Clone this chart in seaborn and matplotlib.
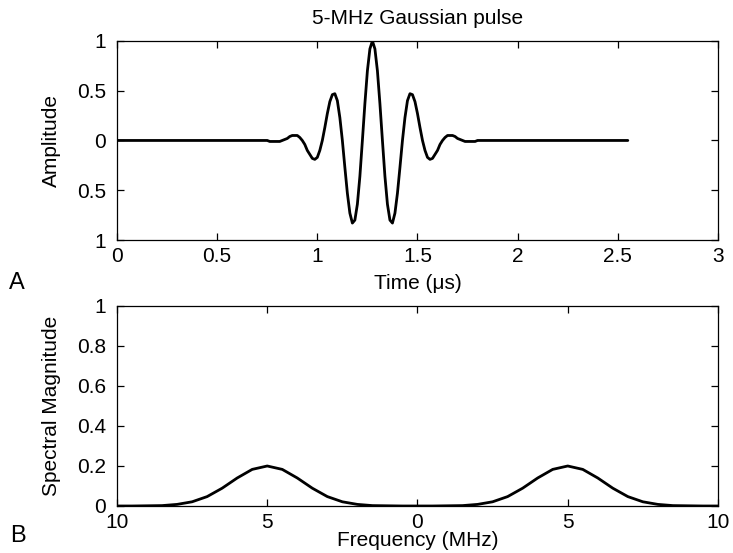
import matplotlib
matplotlib.use("Agg")
import matplotlib.pyplot as plt
import seaborn as sns
import pandas as pd

# ---------------- data ----------------
time_us = [0.0,
    0.725, 0.7375, 0.75, 0.7625, 0.775, 0.7875, 0.8, 0.8125, 0.825, 0.8375,
    0.85, 0.8625, 0.875, 0.8875, 0.9, 0.9125, 0.925, 0.9375, 0.95, 0.9625,
    0.975, 0.9875, 1.0, 1.0125, 1.025, 1.0375, 1.05, 1.0625, 1.075, 1.0875,
    1.1, 1.1125, 1.125, 1.1375, 1.15, 1.1625, 1.175, 1.1875, 1.2, 1.2125,
    1.225, 1.2375, 1.25, 1.2625, 1.275,
    1.2875, 1.3, 1.3125, 1.325, 1.3375, 1.35, 1.3625, 1.375, 1.3875, 1.4,
    1.4125, 1.425, 1.4375, 1.45, 1.4625, 1.475, 1.4875, 1.5, 1.5125, 1.525,
    1.5375, 1.55, 1.5625, 1.575, 1.5875, 1.6, 1.6125, 1.625, 1.6375, 1.65,
    1.6625, 1.675, 1.6875, 1.7, 1.7125, 1.725, 1.7375, 1.75, 1.7625, 1.775,
    1.7875, 1.8, 1.8125, 1.825,
    2.55]
amplitude = [0.0,
    0.00, 0.00, 0.00, -0.01, -0.01, -0.01, -0.01, -0.01, 0.00, 0.01,
    0.02, 0.04, 0.05, 0.05, 0.05, 0.03, 0.00, -0.04, -0.10, -0.14,
    -0.18, -0.19, -0.17, -0.10, 0.00, 0.13, 0.27, 0.39, 0.46, 0.47,
    0.40, 0.23, 0.00, -0.27, -0.53, -0.73, -0.83, -0.80, -0.64, -0.36,
    0.00, 0.37, 0.70, 0.92, 1.00,
    0.92, 0.70, 0.37, 0.00, -0.36, -0.64, -0.80, -0.83, -0.73, -0.53,
    -0.27, 0.00, 0.23, 0.40, 0.47, 0.46, 0.39, 0.27, 0.13, 0.00,
    -0.10, -0.17, -0.19, -0.18, -0.14, -0.10, -0.04, 0.00, 0.03, 0.05,
    0.05, 0.05, 0.04, 0.02, 0.01, 0.00, -0.01, -0.01, -0.01, -0.01,
    -0.01, 0.00, 0.00, 0.00,
    0.0]

freq_mhz = [-10.0, -9.5, -9.0, -8.5, -8.0, -7.5, -7.0, -6.5, -6.0, -5.5,
            -5.0, -4.5, -4.0, -3.5, -3.0, -2.5, -2.0, -1.5, -1.0, -0.5,
            0.0, 0.5, 1.0, 1.5, 2.0, 2.5, 3.0, 3.5, 4.0, 4.5,
            5.0, 5.5, 6.0, 6.5, 7.0, 7.5, 8.0, 8.5, 9.0, 9.5, 10.0]
spectral_mag = [0.000, 0.000, 0.001, 0.002, 0.008, 0.021, 0.047, 0.089, 0.140, 0.183,
                0.200, 0.183, 0.140, 0.089, 0.047, 0.021, 0.008, 0.002, 0.001, 0.000,
                0.000, 0.000, 0.001, 0.002, 0.008, 0.021, 0.047, 0.089, 0.140, 0.183,
                0.200, 0.183, 0.140, 0.089, 0.047, 0.021, 0.008, 0.002, 0.001, 0.000,
                0.000]

time_ticks = [0, 0.5, 1, 1.5, 2, 2.5, 3]
time_ticklabels = ["0", "0.5", "1", "1.5", "2", "2.5", "3"]
amp_ticks = [-1, -0.5, 0, 0.5, 1]
amp_ticklabels = ["1", "0.5", "0", "0.5", "1"]
freq_ticks = [-10, -5, 0, 5, 10]
freq_ticklabels = ["10", "5", "0", "5", "10"]
mag_ticks = [0, 0.2, 0.4, 0.6, 0.8, 1]
mag_ticklabels = ["0", "0.2", "0.4", "0.6", "0.8", "1"]

# ---------------- style ----------------
sns.set_theme(style="ticks")
plt.rcParams["font.family"] = ["Liberation Sans", "DejaVu Sans"]
plt.rcParams["axes.linewidth"] = 0.9
plt.rcParams["axes.edgecolor"] = "black"
plt.rcParams["text.color"] = "black"
plt.rcParams["axes.labelcolor"] = "black"
plt.rcParams["xtick.color"] = "black"
plt.rcParams["ytick.color"] = "black"

FS = 15

fig = plt.figure(figsize=(7.33, 5.53), dpi=100)
ax1 = fig.add_axes([0.1596, 0.566, 0.8199, 0.360])
ax2 = fig.add_axes([0.1596, 0.085, 0.8199, 0.3617])

df_t = pd.DataFrame({"t": time_us, "a": amplitude})
df_f = pd.DataFrame({"f": freq_mhz, "m": spectral_mag})

sns.lineplot(data=df_t, x="t", y="a", ax=ax1, color="black", linewidth=2.0,
             estimator=None, sort=False)
sns.lineplot(data=df_f, x="f", y="m", ax=ax2, color="black", linewidth=2.0,
             estimator=None, sort=False)

for ax in (ax1, ax2):
    for sp in ax.spines.values():
        sp.set_visible(True)
        sp.set_color("black")
    ax.tick_params(direction="in", length=5, width=0.9, top=True, right=True,
                   labelsize=FS, colors="black", labelcolor="black")
    ax.tick_params(axis="y", pad=8)
    ax.tick_params(axis="x", pad=5)

ax1.set_xlim(0, 3)
ax1.set_ylim(-1, 1)
ax1.set_xticks(time_ticks)
ax1.set_xticklabels(time_ticklabels)
ax1.set_yticks(amp_ticks)
ax1.set_yticklabels(amp_ticklabels)
ax1.set_xlabel("Time (μs)", fontsize=FS, color="black")
ax1.set_ylabel("Amplitude", fontsize=FS, color="black")
ax1.set_title("5-MHz Gaussian pulse", fontsize=FS, pad=12, color="black")
ax1.xaxis.set_label_coords(0.5, -0.17)
ax1.yaxis.set_label_coords(-0.093, 0.5)

ax2.set_xlim(-10, 10)
ax2.set_ylim(0, 1)
ax2.set_xticks(freq_ticks)
ax2.set_xticklabels(freq_ticklabels)
ax2.set_yticks(mag_ticks)
ax2.set_yticklabels(mag_ticklabels)
ax2.set_xlabel("Frequency (MHz)", fontsize=FS, color="black")
ax2.set_ylabel("Spectral Magnitude", fontsize=FS, color="black")
ax2.xaxis.set_label_coords(0.5, -0.125)
ax2.yaxis.set_label_coords(-0.093, 0.5)

fig.text(0.012, 0.488, "A", fontsize=17, ha="left", va="center", color="black")
fig.text(0.014, 0.030, "B", fontsize=17, ha="left", va="center", color="black")

fig.savefig("out.png", dpi=100)
